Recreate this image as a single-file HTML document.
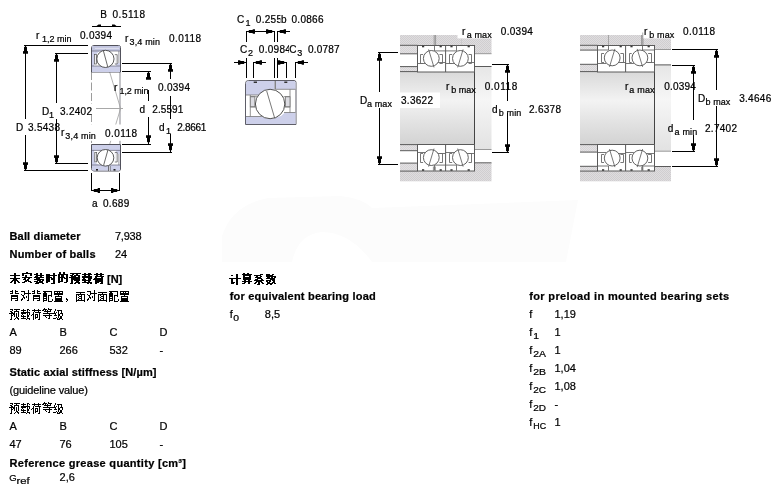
<!DOCTYPE html>
<html><head><meta charset="utf-8"><title>bearing</title>
<style>
html,body{margin:0;padding:0;background:#fff;}
body{width:781px;height:494px;overflow:hidden;position:relative;font-family:"Liberation Sans",sans-serif;}
svg{position:absolute;left:0;top:0;display:block;will-change:transform;}
svg text{font-family:"Liberation Sans",sans-serif;stroke:#000;stroke-width:0.22px;}
.px{shape-rendering:crispEdges}
</style></head><body>
<svg width="781" height="494" viewBox="0 0 781 494">
<defs>
<linearGradient id="shaft" x1="0" y1="0" x2="0" y2="1">
<stop offset="0" stop-color="#d9d9d9"/><stop offset="0.2" stop-color="#e6e6e6"/><stop offset="0.4" stop-color="#f3f3f3"/><stop offset="0.7" stop-color="#e2e2e2"/><stop offset="1" stop-color="#d3d3d3"/>
</linearGradient>
<linearGradient id="shaft2" x1="0" y1="0" x2="0" y2="1">
<stop offset="0" stop-color="#e6e6e6"/><stop offset="0.4" stop-color="#f6f6f6"/><stop offset="1" stop-color="#e2e2e2"/>
</linearGradient>
<pattern id="dith" width="2" height="2" patternUnits="userSpaceOnUse"><rect width="2" height="2" fill="#dfdddf"/><rect width="1" height="1" fill="#d0ced0"/><rect x="1" y="1" width="1" height="1" fill="#d0ced0"/></pattern>
<pattern id="dith2" width="2" height="2" patternUnits="userSpaceOnUse"><rect width="2" height="2" fill="#e3e1e3"/><rect width="1" height="1" fill="#d6d4d6"/><rect x="1" y="1" width="1" height="1" fill="#d6d4d6"/></pattern>
</defs>
<path d="M222 236Q232 205 268 198L340 196Q362 198 372 208L578 200L566 262L372 262Q350 232 322 232Q298 234 292 262L222 262z" fill="#fcfcfc"/>
<g class="px">
</g>
<line x1="91.5" y1="72" x2="91.5" y2="144" stroke="#9c9c9c" stroke-width="1" stroke-dasharray="8 2.5"/>
<rect x="119" y="72" width="2" height="72" fill="#c4c4c8"/>
<line x1="91" y1="108.5" x2="123" y2="108.5" stroke="#a8a8a8" stroke-width="1"/>
<line x1="103.3" y1="50.7" x2="120.6" y2="108.5" stroke="#a0a0a0" stroke-width="0.8"/>
<line x1="120.6" y1="108.5" x2="103.3" y2="165.3" stroke="#a0a0a0" stroke-width="0.8"/>
<rect x="88" y="104" width="8" height="10.5" fill="#fff"/>
<rect x="60" y="124.5" width="79" height="16.3" fill="#fff"/>
<path d="M91.5 72L91.5 48.0Q91.5 45.5 94.0 45.5L118.5 45.5Q120.5 45.5 120.5 47.5L120.5 72z" fill="#fff" stroke="#484852" stroke-width="0.95"/>
<rect x="92" y="46" width="28" height="5" fill="#c3c6e0"/>
<line x1="95" y1="48.4" x2="119" y2="48.4" stroke="#e6e7f3" stroke-width="0.8"/>
<rect x="92" y="66" width="28" height="6" fill="#cdd0ea"/>
<path d="M92 51L99.5 51L95 55.5L94 66L92 66z" fill="#cdd0ea"/>
<path d="M120 63L114.5 63L116.5 66L120 66z" fill="#cdd0ea"/>
<rect x="94.6" y="54.6" width="1.9" height="9.4" fill="#f2f2f6" stroke="#555" stroke-width="0.7"/>
<path d="M114.8 54.6L117.2 54.6L117.2 64L114.8 64" fill="#f2f2f6" stroke="#555" stroke-width="0.7"/>
<line x1="92" y1="51" x2="120" y2="51" stroke="#667" stroke-width="0.7"/>
<line x1="92" y1="66" x2="120" y2="66" stroke="#667" stroke-width="0.7"/>
<line x1="118.9" y1="51" x2="118.9" y2="63" stroke="#667" stroke-width="0.7"/>
<circle cx="105.4" cy="58.9" r="8.6" fill="#fff" stroke="#3c3c3c" stroke-width="0.85"/>
<line x1="103.3" y1="50.5" x2="107.8" y2="67" stroke="#444" stroke-width="0.8"/>
<path d="M91.5 144.5L120.5 144.5L120.5 169Q120.5 171 118.5 171L94.0 171Q91.5 171 91.5 168.5z" fill="#fff" stroke="#484852" stroke-width="0.95"/>
<rect x="92" y="145" width="28" height="5.4" fill="#cdd0ea"/>
<rect x="92" y="165" width="28" height="5.5" fill="#cdd0ea"/>
<path d="M92 165L99 165L95 162.5L94 150L92 150z" fill="#cdd0ea"/>
<path d="M120 154L114.5 154L116.5 150L120 150z" fill="#cdd0ea"/>
<rect x="94.8" y="152.5" width="1.9" height="9.4" fill="#f2f2f6" stroke="#555" stroke-width="0.7"/>
<path d="M114.8 152.5L117.2 152.5L117.2 162L114.8 162" fill="#f2f2f6" stroke="#555" stroke-width="0.7"/>
<line x1="92" y1="150.4" x2="120" y2="150.4" stroke="#667" stroke-width="0.7"/>
<line x1="92" y1="165" x2="120" y2="165" stroke="#667" stroke-width="0.7"/>
<line x1="118.9" y1="154" x2="118.9" y2="165" stroke="#667" stroke-width="0.7"/>
<circle cx="105.5" cy="157.8" r="8.3" fill="#fff" stroke="#3c3c3c" stroke-width="0.85"/>
<line x1="108" y1="149.7" x2="103.7" y2="165" stroke="#444" stroke-width="0.8"/>
<rect x="108.3" y="166" width="0.8" height="5" fill="#444"/>
<rect x="109.1" y="166" width="0.7" height="5" fill="#fff"/>
<rect x="109.8" y="166" width="0.7" height="5" fill="#555"/>
<rect x="96" y="169" width="2" height="1.6" fill="#222"/>
<rect x="113.5" y="169" width="2" height="1.6" fill="#222"/>
<g class="px">
<rect x="24" y="45" width="64" height="1" fill="#000"/>
<rect x="24" y="170" width="64" height="1" fill="#000"/>
<rect x="25" y="45" width="1" height="74" fill="#000"/>
<rect x="25" y="135" width="1" height="36" fill="#000"/>
<rect x="55" y="53" width="33" height="1" fill="#000"/>
<rect x="55" y="163" width="33" height="1" fill="#000"/>
<rect x="56" y="53" width="1" height="50" fill="#000"/>
<rect x="56" y="119" width="1" height="45" fill="#000"/>
<rect x="122" y="63" width="50" height="1" fill="#000"/>
<rect x="122" y="152" width="50" height="1" fill="#000"/>
<rect x="170" y="63" width="1" height="16" fill="#000"/>
<rect x="170" y="96" width="1" height="23" fill="#000"/>
<rect x="170" y="134" width="1" height="18" fill="#000"/>
<rect x="122" y="71" width="29" height="1" fill="#000"/>
<rect x="122" y="144" width="29" height="1" fill="#000"/>
<rect x="148" y="71" width="1" height="8" fill="#000"/>
<rect x="148" y="90" width="1" height="11" fill="#000"/>
<rect x="148" y="117" width="1" height="27" fill="#000"/>
<rect x="91" y="173" width="1" height="18" fill="#000"/>
<rect x="119" y="173" width="1" height="18" fill="#000"/>
<rect x="91" y="190" width="29" height="1" fill="#000"/>
<rect x="92" y="26" width="29" height="1" fill="#000"/>
</g>
<path d="M26.00 45.00L26.00 46.40L27.00 47.20L27.00 51.09L28.00 51.26L28.00 53.70L23.00 53.70L23.00 51.26L24.00 51.09L24.00 47.20L25.00 46.40L25.00 45.00z" fill="#000"/>
<path d="M26.00 171.00L26.00 169.60L27.00 168.80L27.00 164.91L28.00 164.74L28.00 162.30L23.00 162.30L23.00 164.74L24.00 164.91L24.00 168.80L25.00 169.60L25.00 171.00z" fill="#000"/>
<path d="M57.00 53.00L57.00 54.40L58.00 55.20L58.00 59.09L59.00 59.26L59.00 61.70L54.00 61.70L54.00 59.26L55.00 59.09L55.00 55.20L56.00 54.40L56.00 53.00z" fill="#000"/>
<path d="M57.00 164.00L57.00 162.60L58.00 161.80L58.00 157.91L59.00 157.74L59.00 155.30L54.00 155.30L54.00 157.74L55.00 157.91L55.00 161.80L56.00 162.60L56.00 164.00z" fill="#000"/>
<path d="M171.00 63.00L171.00 64.40L172.00 65.20L172.00 69.09L173.00 69.26L173.00 71.70L168.00 71.70L168.00 69.26L169.00 69.09L169.00 65.20L170.00 64.40L170.00 63.00z" fill="#000"/>
<path d="M171.00 152.00L171.00 150.60L172.00 149.80L172.00 145.91L173.00 145.74L173.00 143.30L168.00 143.30L168.00 145.74L169.00 145.91L169.00 149.80L170.00 150.60L170.00 152.00z" fill="#000"/>
<path d="M149.00 71.00L149.00 72.40L150.00 73.20L150.00 77.09L151.00 77.26L151.00 79.70L146.00 79.70L146.00 77.26L147.00 77.09L147.00 73.20L148.00 72.40L148.00 71.00z" fill="#000"/>
<path d="M149.00 144.00L149.00 142.60L150.00 141.80L150.00 137.91L151.00 137.74L151.00 135.30L146.00 135.30L146.00 137.74L147.00 137.91L147.00 141.80L148.00 142.60L148.00 144.00z" fill="#000"/>
<path d="M92.00 191.00L93.40 191.00L94.20 192.00L97.60 192.00L97.76 193.00L100.00 193.00L100.00 188.00L97.76 188.00L97.60 189.00L94.20 189.00L93.40 190.00L92.00 190.00z" fill="#000"/>
<path d="M119.00 191.00L117.60 191.00L116.80 192.00L113.40 192.00L113.24 193.00L111.00 193.00L111.00 188.00L113.24 188.00L113.40 189.00L116.80 189.00L117.60 190.00L119.00 190.00z" fill="#000"/>
<path d="M96.5 26L98.5 24.6L101 24.6L101 26z M116.5 26L114.5 24.6L112 24.6L112 26z" fill="#000"/>
<text x="100.3" y="18" font-size="10" fill="#000">B</text>
<text x="112.5" y="18" font-size="10" fill="#000" textLength="32.5" lengthAdjust="spacing">0.5118</text>
<text x="36" y="38.5" font-size="10" fill="#000">r</text>
<text x="42" y="42" font-size="9" fill="#000" textLength="29.5" lengthAdjust="spacing">1,2 min</text>
<text x="80" y="38.5" font-size="10" fill="#000" textLength="32" lengthAdjust="spacing">0.0394</text>
<text x="125" y="42" font-size="10" fill="#000">r</text>
<text x="129.5" y="45" font-size="9" fill="#000" textLength="30.5" lengthAdjust="spacing">3,4 min</text>
<text x="169" y="42" font-size="10" fill="#000" textLength="32" lengthAdjust="spacing">0.0118</text>
<text x="42" y="114.5" font-size="10" fill="#000">D</text>
<text x="49" y="117.5" font-size="9" fill="#000">1</text>
<text x="60" y="114.5" font-size="10" fill="#000" textLength="32" lengthAdjust="spacing">3.2402</text>
<text x="16" y="131" font-size="10" fill="#000">D</text>
<text x="28" y="131" font-size="10" fill="#000" textLength="32" lengthAdjust="spacing">3.5438</text>
<g class="px">
<rect x="56" y="119" width="1" height="12" fill="#000"/>
</g>
<text x="61" y="136.4" font-size="10" fill="#000">r</text>
<text x="65.3" y="139.4" font-size="9" fill="#000" textLength="30.5" lengthAdjust="spacing">3,4 min</text>
<text x="105" y="137" font-size="10" fill="#000" textLength="32" lengthAdjust="spacing">0.0118</text>
<text x="114" y="90.5" font-size="10" fill="#000">r</text>
<text x="119.5" y="94" font-size="9" fill="#000" textLength="29" lengthAdjust="spacing">1,2 min</text>
<text x="158" y="90.5" font-size="10" fill="#000" textLength="32" lengthAdjust="spacing">0.0394</text>
<text x="139.5" y="113" font-size="10" fill="#000">d</text>
<text x="152.3" y="113" font-size="10" fill="#000" textLength="31" lengthAdjust="spacing">2.5591</text>
<g class="px">
<rect x="170" y="105" width="1" height="14" fill="#000"/>
</g>
<text x="159" y="131" font-size="10" fill="#000">d</text>
<text x="166" y="134" font-size="9" fill="#000">1</text>
<text x="177.2" y="131" font-size="10" fill="#000" textLength="29" lengthAdjust="spacing">2.8661</text>
<text x="92" y="206.5" font-size="10" fill="#000">a</text>
<text x="103" y="206.5" font-size="10" fill="#000" textLength="26.2" lengthAdjust="spacing">0.689</text>
<path d="M245.5 124.5L245.5 83.5Q245.5 80.5 248.5 80.5L294 80.5Q296 80.5 296 82.5L296 124.5z" fill="#fff" stroke="#555560" stroke-width="0.95"/>
<path d="M246 95L246 83.5Q246 81 248.5 81L274.7 81L274.7 89.3L262 95z" fill="#cdd0ea"/>
<path d="M275.7 81L294 81Q295.5 81 295.5 82.5L295.5 89.3L275.7 89.3z" fill="#cdd0ea"/>
<path d="M246 116.5L262 116.5L270 119L281 116L285 112.5L295.5 112.5L295.5 124L246 124z" fill="#cdd0ea"/>
<line x1="246" y1="95" x2="258" y2="95" stroke="#777" stroke-width="0.8"/>
<line x1="275.2" y1="80.5" x2="275.2" y2="89.5" stroke="#555" stroke-width="1"/>
<line x1="275.7" y1="89.3" x2="295.5" y2="89.3" stroke="#777" stroke-width="0.8"/>
<line x1="246" y1="116.5" x2="262" y2="116.5" stroke="#777" stroke-width="0.8"/>
<line x1="284" y1="112.5" x2="295.5" y2="112.5" stroke="#777" stroke-width="0.8"/>
<line x1="250.3" y1="95" x2="250.3" y2="116.5" stroke="#777" stroke-width="0.8"/>
<line x1="290" y1="89.3" x2="290" y2="112.5" stroke="#777" stroke-width="0.8"/>
<rect x="250.3" y="96.7" width="4.5" height="10.2" fill="#dcdce2" stroke="#777" stroke-width="0.8"/>
<rect x="285.4" y="96.7" width="4.6" height="10.2" fill="#dcdce2" stroke="#777" stroke-width="0.8"/>
<line x1="250.3" y1="96.7" x2="257" y2="96.7" stroke="#777" stroke-width="0.8"/>
<line x1="250.3" y1="106.9" x2="256" y2="106.9" stroke="#777" stroke-width="0.8"/>
<line x1="283.5" y1="96.7" x2="290" y2="96.7" stroke="#777" stroke-width="0.8"/>
<line x1="284.5" y1="106.9" x2="290" y2="106.9" stroke="#777" stroke-width="0.8"/>
<circle cx="270.1" cy="104" r="14.7" fill="#fff" stroke="#3c3c3c" stroke-width="0.9"/>
<line x1="266.7" y1="91" x2="274.7" y2="118.2" stroke="#555" stroke-width="0.8"/>
<rect x="253.7" y="81.5" width="3.3" height="1.5" fill="#333"/>
<rect x="284.3" y="81.5" width="3" height="1.5" fill="#333"/>
<g class="px">
<rect x="246" y="31" width="29" height="1" fill="#000"/>
<rect x="246" y="31" width="1" height="11" fill="#000"/>
<rect x="274" y="31" width="1" height="11" fill="#000"/>
<rect x="277" y="31" width="1" height="11" fill="#000"/>
<rect x="278" y="31" width="12" height="1" fill="#000"/>
<rect x="246" y="58" width="1" height="20" fill="#000"/>
<rect x="253" y="62" width="1" height="16" fill="#000"/>
<rect x="274" y="58" width="1" height="20" fill="#000"/>
<rect x="277" y="58" width="1" height="20" fill="#000"/>
<rect x="286" y="62" width="1" height="16" fill="#000"/>
<rect x="295" y="62" width="1" height="16" fill="#000"/>
<rect x="234" y="62" width="12" height="1" fill="#000"/>
<rect x="254" y="62" width="12" height="1" fill="#000"/>
<rect x="278" y="62" width="8" height="1" fill="#000"/>
<rect x="296" y="62" width="12" height="1" fill="#000"/>
</g>
<path d="M247.00 32.00L248.40 32.00L249.20 33.00L252.60 33.00L252.76 33.70L255.00 33.70L255.00 29.30L252.76 29.30L252.60 30.00L249.20 30.00L248.40 31.00L247.00 31.00z" fill="#000"/>
<path d="M274.00 32.00L272.60 32.00L271.80 33.00L268.40 33.00L268.24 33.70L266.00 33.70L266.00 29.30L268.24 29.30L268.40 30.00L271.80 30.00L272.60 31.00L274.00 31.00z" fill="#000"/>
<path d="M278.00 32.00L279.40 32.00L280.20 33.00L283.60 33.00L283.76 33.70L286.00 33.70L286.00 29.30L283.76 29.30L283.60 30.00L280.20 30.00L279.40 31.00L278.00 31.00z" fill="#000"/>
<path d="M246.00 63.00L244.60 63.00L243.80 64.00L240.40 64.00L240.24 64.70L238.00 64.70L238.00 60.30L240.24 60.30L240.40 61.00L243.80 61.00L244.60 62.00L246.00 62.00z" fill="#000"/>
<path d="M254.00 63.00L255.40 63.00L256.20 64.00L259.60 64.00L259.76 64.70L262.00 64.70L262.00 60.30L259.76 60.30L259.60 61.00L256.20 61.00L255.40 62.00L254.00 62.00z" fill="#000"/>
<path d="M286.00 63.00L284.60 63.00L283.80 64.00L280.40 64.00L280.24 64.70L278.00 64.70L278.00 60.30L280.24 60.30L280.40 61.00L283.80 61.00L284.60 62.00L286.00 62.00z" fill="#000"/>
<path d="M296.00 63.00L297.40 63.00L298.20 64.00L301.60 64.00L301.76 64.70L304.00 64.70L304.00 60.30L301.76 60.30L301.60 61.00L298.20 61.00L297.40 62.00L296.00 62.00z" fill="#000"/>
<text x="237" y="22.5" font-size="10" fill="#000">C</text>
<text x="245.5" y="25.5" font-size="9" fill="#000">1</text>
<text x="255.8" y="22.5" font-size="10" fill="#000" textLength="32" lengthAdjust="spacing">0.2559</text>
<rect x="280.5" y="12" width="45" height="13" fill="#fff"/>
<text x="281" y="22.5" font-size="10" fill="#000">b</text>
<text x="291.5" y="22.5" font-size="10" fill="#000" textLength="32" lengthAdjust="spacing">0.0866</text>
<text x="240" y="53" font-size="10" fill="#000">C</text>
<text x="248" y="56" font-size="9" fill="#000">2</text>
<text x="258.8" y="53" font-size="10" fill="#000" textLength="32" lengthAdjust="spacing">0.0984</text>
<rect x="289" y="43" width="52" height="13" fill="#fff"/>
<text x="289.3" y="53" font-size="10" fill="#000">C</text>
<text x="297.3" y="56" font-size="9" fill="#000">3</text>
<text x="308" y="53" font-size="10" fill="#000" textLength="31.6" lengthAdjust="spacing">0.0787</text>
<rect x="400" y="35" width="91.5" height="10" fill="url(#dith)"/>
<rect x="400" y="171" width="91.5" height="10.3" fill="url(#dith)"/>
<rect x="400" y="71.5" width="74.5" height="73" fill="url(#shaft)"/>
<rect x="400" y="45" width="17.5" height="8.7" fill="url(#dith2)"/>
<rect x="400" y="66.5" width="17.5" height="5" fill="url(#dith2)"/>
<rect x="400" y="144.5" width="17.5" height="6" fill="url(#dith2)"/>
<rect x="400" y="163" width="17.5" height="8" fill="url(#dith2)"/>
<line x1="400" y1="45.3" x2="417.5" y2="45.3" stroke="#5a5a5a" stroke-width="1"/>
<line x1="400" y1="53.8" x2="417.5" y2="53.8" stroke="#5a5a5a" stroke-width="1"/>
<line x1="400" y1="66.6" x2="417.5" y2="66.6" stroke="#5a5a5a" stroke-width="1"/>
<line x1="400" y1="71.6" x2="417.5" y2="71.6" stroke="#5a5a5a" stroke-width="1"/>
<line x1="400" y1="144.60000000000002" x2="417.5" y2="144.60000000000002" stroke="#5a5a5a" stroke-width="1"/>
<line x1="400" y1="150.70000000000002" x2="417.5" y2="150.70000000000002" stroke="#5a5a5a" stroke-width="1"/>
<line x1="400" y1="163.10000000000002" x2="417.5" y2="163.10000000000002" stroke="#5a5a5a" stroke-width="1"/>
<line x1="400" y1="171.10000000000002" x2="417.5" y2="171.10000000000002" stroke="#5a5a5a" stroke-width="1"/>
<rect x="474.5" y="45" width="17.0" height="8.7" fill="url(#dith)"/>
<rect x="474.5" y="163" width="17.0" height="8" fill="url(#dith)"/>
<rect x="474.5" y="66.5" width="17.0" height="83" fill="url(#shaft2)"/>
<line x1="474.5" y1="53.7" x2="491.5" y2="53.7" stroke="#999" stroke-width="1"/>
<line x1="474.5" y1="66.5" x2="491.5" y2="66.5" stroke="#5a5a5a" stroke-width="1"/>
<line x1="474.5" y1="149.5" x2="491.5" y2="149.5" stroke="#999" stroke-width="1"/>
<line x1="474.5" y1="162.8" x2="491.5" y2="162.8" stroke="#5a5a5a" stroke-width="1"/>
<line x1="434.2" y1="35" x2="434.2" y2="45" stroke="#888" stroke-width="0.8"/>
<line x1="435.6" y1="35" x2="435.6" y2="45" stroke="#888" stroke-width="0.8"/>
<line x1="461.5" y1="35" x2="461.5" y2="45" stroke="#c8c8c8" stroke-width="0.8"/>
<line x1="474.5" y1="71.5" x2="474.5" y2="144.5" stroke="#444" stroke-width="1"/>
<rect x="417.5" y="45.5" width="57.0" height="26.5" fill="#fff" stroke="#5a5a5a" stroke-width="1"/>
<line x1="445.6" y1="45.5" x2="445.6" y2="72" stroke="#5a5a5a" stroke-width="1"/>
<line x1="434.5" y1="45.5" x2="434.5" y2="50.9" stroke="#686868" stroke-width="0.9"/>
<line x1="434.5" y1="50.9" x2="445.6" y2="50.9" stroke="#686868" stroke-width="0.9"/>
<line x1="417.5" y1="63.5" x2="425.3" y2="63.5" stroke="#686868" stroke-width="0.9"/>
<line x1="437.3" y1="62.5" x2="445.6" y2="62.5" stroke="#686868" stroke-width="0.9"/>
<path d="M423.1 54.5L420.5 54.5L420.5 63.5L423.1 63.5" fill="none" stroke="#686868" stroke-width="0.9"/>
<path d="M439.5 54.5L442.5 54.5L442.5 63.5L439.5 63.5" fill="none" stroke="#686868" stroke-width="0.9"/>
<circle cx="431.3" cy="58.4" r="7.9" fill="#fff" stroke="#505050" stroke-width="0.9"/>
<line x1="428.6" y1="49.4" x2="434.0" y2="67.4" stroke="#555" stroke-width="0.8"/>
<line x1="456.5" y1="45.5" x2="456.5" y2="50.9" stroke="#686868" stroke-width="0.9"/>
<line x1="456.5" y1="50.9" x2="445.6" y2="50.9" stroke="#686868" stroke-width="0.9"/>
<line x1="445.6" y1="63.5" x2="454.4" y2="63.5" stroke="#686868" stroke-width="0.9"/>
<line x1="466.4" y1="62.5" x2="474.5" y2="62.5" stroke="#686868" stroke-width="0.9"/>
<path d="M452.2 54.5L449.5 54.5L449.5 63.5L452.2 63.5" fill="none" stroke="#686868" stroke-width="0.9"/>
<path d="M468.6 54.5L471.5 54.5L471.5 63.5L468.6 63.5" fill="none" stroke="#686868" stroke-width="0.9"/>
<circle cx="460.4" cy="58.4" r="7.9" fill="#fff" stroke="#505050" stroke-width="0.9"/>
<line x1="463.09999999999997" y1="49.4" x2="457.7" y2="67.4" stroke="#555" stroke-width="0.8"/>
<rect x="422.0" y="45.7" width="2.2" height="1.6" fill="#3a3a3a"/>
<rect x="439.6" y="45.7" width="2.2" height="1.6" fill="#3a3a3a"/>
<rect x="450.4" y="45.7" width="2.2" height="1.6" fill="#3a3a3a"/>
<rect x="467.6" y="45.7" width="2.2" height="1.6" fill="#3a3a3a"/>
<rect x="417.5" y="144.5" width="57.0" height="26.5" fill="#fff" stroke="#5a5a5a" stroke-width="1"/>
<line x1="445.6" y1="144.5" x2="445.6" y2="171" stroke="#5a5a5a" stroke-width="1"/>
<line x1="434.5" y1="170.5" x2="434.5" y2="165.1" stroke="#686868" stroke-width="0.9"/>
<line x1="434.5" y1="165.1" x2="445.6" y2="165.1" stroke="#686868" stroke-width="0.9"/>
<line x1="417.5" y1="152.5" x2="425.3" y2="152.5" stroke="#686868" stroke-width="0.9"/>
<line x1="437.3" y1="153.5" x2="445.6" y2="153.5" stroke="#686868" stroke-width="0.9"/>
<path d="M423.1 153.5L420.5 153.5L420.5 162.5L423.1 162.5" fill="none" stroke="#686868" stroke-width="0.9"/>
<path d="M439.5 153.5L442.5 153.5L442.5 162.5L439.5 162.5" fill="none" stroke="#686868" stroke-width="0.9"/>
<circle cx="431.3" cy="157.6" r="7.9" fill="#fff" stroke="#505050" stroke-width="0.9"/>
<line x1="428.6" y1="166.6" x2="434.0" y2="148.6" stroke="#555" stroke-width="0.8"/>
<line x1="456.5" y1="170.5" x2="456.5" y2="165.1" stroke="#686868" stroke-width="0.9"/>
<line x1="456.5" y1="165.1" x2="445.6" y2="165.1" stroke="#686868" stroke-width="0.9"/>
<line x1="445.6" y1="152.5" x2="454.4" y2="152.5" stroke="#686868" stroke-width="0.9"/>
<line x1="466.4" y1="153.5" x2="474.5" y2="153.5" stroke="#686868" stroke-width="0.9"/>
<path d="M452.2 153.5L449.5 153.5L449.5 162.5L452.2 162.5" fill="none" stroke="#686868" stroke-width="0.9"/>
<path d="M468.6 153.5L471.5 153.5L471.5 162.5L468.6 162.5" fill="none" stroke="#686868" stroke-width="0.9"/>
<circle cx="460.4" cy="157.6" r="7.9" fill="#fff" stroke="#505050" stroke-width="0.9"/>
<line x1="463.09999999999997" y1="166.6" x2="457.7" y2="148.6" stroke="#555" stroke-width="0.8"/>
<rect x="422.0" y="169.2" width="2.2" height="1.6" fill="#3a3a3a"/>
<rect x="439.6" y="169.2" width="2.2" height="1.6" fill="#3a3a3a"/>
<rect x="450.4" y="169.2" width="2.2" height="1.6" fill="#3a3a3a"/>
<rect x="467.6" y="169.2" width="2.2" height="1.6" fill="#3a3a3a"/>
<line x1="433.4" y1="166.5" x2="433.4" y2="171" stroke="#777" stroke-width="0.8"/>
<line x1="435.3" y1="166.5" x2="435.3" y2="171" stroke="#777" stroke-width="0.8"/>
<line x1="456.5" y1="166.5" x2="456.5" y2="171" stroke="#777" stroke-width="0.8"/>
<rect x="580" y="35" width="91" height="10" fill="url(#dith)"/>
<rect x="580" y="171" width="91" height="10.3" fill="url(#dith)"/>
<rect x="580" y="71.5" width="74.5" height="73" fill="url(#shaft)"/>
<rect x="580" y="45" width="17.5" height="5" fill="url(#dith2)"/>
<rect x="580" y="64" width="17.5" height="7.5" fill="url(#dith2)"/>
<rect x="580" y="144.5" width="17.5" height="7.5" fill="url(#dith2)"/>
<rect x="580" y="166" width="17.5" height="5" fill="url(#dith2)"/>
<line x1="580" y1="45.3" x2="597.5" y2="45.3" stroke="#5a5a5a" stroke-width="1"/>
<line x1="580" y1="50.099999999999994" x2="597.5" y2="50.099999999999994" stroke="#5a5a5a" stroke-width="1"/>
<line x1="580" y1="64.3" x2="597.5" y2="64.3" stroke="#5a5a5a" stroke-width="1"/>
<line x1="580" y1="71.6" x2="597.5" y2="71.6" stroke="#5a5a5a" stroke-width="1"/>
<line x1="580" y1="144.60000000000002" x2="597.5" y2="144.60000000000002" stroke="#5a5a5a" stroke-width="1"/>
<line x1="580" y1="152.10000000000002" x2="597.5" y2="152.10000000000002" stroke="#5a5a5a" stroke-width="1"/>
<line x1="580" y1="166.3" x2="597.5" y2="166.3" stroke="#5a5a5a" stroke-width="1"/>
<line x1="580" y1="171.10000000000002" x2="597.5" y2="171.10000000000002" stroke="#5a5a5a" stroke-width="1"/>
<rect x="654.5" y="45" width="16.5" height="4.5" fill="url(#dith)"/>
<rect x="654.5" y="166.5" width="16.5" height="4.5" fill="url(#dith)"/>
<rect x="654.5" y="64.7" width="16.5" height="86.5" fill="url(#shaft2)"/>
<line x1="654.5" y1="49.5" x2="671" y2="49.5" stroke="#999" stroke-width="1"/>
<line x1="654.5" y1="64.9" x2="671" y2="64.9" stroke="#5a5a5a" stroke-width="1"/>
<line x1="654.5" y1="151.2" x2="671" y2="151.2" stroke="#999" stroke-width="1"/>
<line x1="654.5" y1="166.5" x2="671" y2="166.5" stroke="#5a5a5a" stroke-width="1"/>
<line x1="608.5" y1="35" x2="608.5" y2="45" stroke="#999" stroke-width="0.8"/>
<line x1="641.6" y1="35" x2="641.6" y2="45" stroke="#888" stroke-width="0.8"/>
<line x1="642.9" y1="32.5" x2="642.9" y2="45" stroke="#777" stroke-width="0.8"/>
<line x1="654.5" y1="71.5" x2="654.5" y2="144.5" stroke="#444" stroke-width="1"/>
<rect x="597.5" y="45.5" width="57.0" height="26.5" fill="#fff" stroke="#5a5a5a" stroke-width="1"/>
<line x1="625.6" y1="45.5" x2="625.6" y2="72" stroke="#5a5a5a" stroke-width="1"/>
<line x1="608.5" y1="45.5" x2="608.5" y2="50.0" stroke="#686868" stroke-width="0.9"/>
<line x1="608.5" y1="50.0" x2="597.5" y2="50.0" stroke="#686868" stroke-width="0.9"/>
<line x1="597.5" y1="63.5" x2="606.2" y2="63.5" stroke="#686868" stroke-width="0.9"/>
<line x1="618.2" y1="62.5" x2="625.6" y2="62.5" stroke="#686868" stroke-width="0.9"/>
<path d="M604.0 53.5L601.5 53.5L601.5 62.5L604.0 62.5" fill="none" stroke="#686868" stroke-width="0.9"/>
<path d="M620.4 53.5L623.5 53.5L623.5 62.5L620.4 62.5" fill="none" stroke="#686868" stroke-width="0.9"/>
<circle cx="612.2" cy="57.9" r="7.9" fill="#fff" stroke="#505050" stroke-width="0.9"/>
<line x1="614.9000000000001" y1="48.9" x2="609.5" y2="66.9" stroke="#555" stroke-width="0.8"/>
<line x1="642.5" y1="45.5" x2="642.5" y2="50.0" stroke="#686868" stroke-width="0.9"/>
<line x1="642.5" y1="50.0" x2="654.5" y2="50.0" stroke="#686868" stroke-width="0.9"/>
<line x1="625.6" y1="63.5" x2="633.9" y2="63.5" stroke="#686868" stroke-width="0.9"/>
<line x1="645.9" y1="62.5" x2="654.5" y2="62.5" stroke="#686868" stroke-width="0.9"/>
<path d="M631.7 53.5L629.5 53.5L629.5 62.5L631.7 62.5" fill="none" stroke="#686868" stroke-width="0.9"/>
<path d="M648.1 53.5L651.5 53.5L651.5 62.5L648.1 62.5" fill="none" stroke="#686868" stroke-width="0.9"/>
<circle cx="639.9" cy="57.9" r="7.9" fill="#fff" stroke="#505050" stroke-width="0.9"/>
<line x1="637.1999999999999" y1="48.9" x2="642.6" y2="66.9" stroke="#555" stroke-width="0.8"/>
<rect x="602.0" y="45.7" width="2.2" height="1.6" fill="#3a3a3a"/>
<rect x="619.6" y="45.7" width="2.2" height="1.6" fill="#3a3a3a"/>
<rect x="630.4" y="45.7" width="2.2" height="1.6" fill="#3a3a3a"/>
<rect x="647.6" y="45.7" width="2.2" height="1.6" fill="#3a3a3a"/>
<rect x="597.5" y="144.5" width="57.0" height="26.5" fill="#fff" stroke="#5a5a5a" stroke-width="1"/>
<line x1="625.6" y1="144.5" x2="625.6" y2="171" stroke="#5a5a5a" stroke-width="1"/>
<line x1="608.5" y1="170.5" x2="608.5" y2="166.0" stroke="#686868" stroke-width="0.9"/>
<line x1="608.5" y1="166.0" x2="597.5" y2="166.0" stroke="#686868" stroke-width="0.9"/>
<line x1="597.5" y1="152.5" x2="606.2" y2="152.5" stroke="#686868" stroke-width="0.9"/>
<line x1="618.2" y1="153.5" x2="625.6" y2="153.5" stroke="#686868" stroke-width="0.9"/>
<path d="M604.0 154.5L601.5 154.5L601.5 162.5L604.0 162.5" fill="none" stroke="#686868" stroke-width="0.9"/>
<path d="M620.4 154.5L623.5 154.5L623.5 162.5L620.4 162.5" fill="none" stroke="#686868" stroke-width="0.9"/>
<circle cx="612.2" cy="158.1" r="7.9" fill="#fff" stroke="#505050" stroke-width="0.9"/>
<line x1="614.9000000000001" y1="167.1" x2="609.5" y2="149.1" stroke="#555" stroke-width="0.8"/>
<line x1="642.5" y1="170.5" x2="642.5" y2="166.0" stroke="#686868" stroke-width="0.9"/>
<line x1="642.5" y1="166.0" x2="654.5" y2="166.0" stroke="#686868" stroke-width="0.9"/>
<line x1="625.6" y1="152.5" x2="633.9" y2="152.5" stroke="#686868" stroke-width="0.9"/>
<line x1="645.9" y1="153.5" x2="654.5" y2="153.5" stroke="#686868" stroke-width="0.9"/>
<path d="M631.7 154.5L629.5 154.5L629.5 162.5L631.7 162.5" fill="none" stroke="#686868" stroke-width="0.9"/>
<path d="M648.1 154.5L651.5 154.5L651.5 162.5L648.1 162.5" fill="none" stroke="#686868" stroke-width="0.9"/>
<circle cx="639.9" cy="158.1" r="7.9" fill="#fff" stroke="#505050" stroke-width="0.9"/>
<line x1="637.1999999999999" y1="167.1" x2="642.6" y2="149.1" stroke="#555" stroke-width="0.8"/>
<rect x="602.0" y="169.2" width="2.2" height="1.6" fill="#3a3a3a"/>
<rect x="619.6" y="169.2" width="2.2" height="1.6" fill="#3a3a3a"/>
<rect x="630.4" y="169.2" width="2.2" height="1.6" fill="#3a3a3a"/>
<rect x="647.6" y="169.2" width="2.2" height="1.6" fill="#3a3a3a"/>
<line x1="608.5" y1="166.5" x2="608.5" y2="171" stroke="#777" stroke-width="0.8"/>
<line x1="641.6" y1="166.5" x2="641.6" y2="171" stroke="#777" stroke-width="0.8"/>
<line x1="642.9" y1="166.5" x2="642.9" y2="171" stroke="#777" stroke-width="0.8"/>
<g class="px">
<rect x="378" y="52" width="20" height="1" fill="#000"/>
<rect x="378" y="164" width="20" height="1" fill="#000"/>
<rect x="379" y="52" width="1" height="40" fill="#000"/>
<rect x="379" y="108" width="1" height="57" fill="#000"/>
<rect x="492" y="64" width="17" height="1" fill="#000"/>
<rect x="492" y="152" width="17" height="1" fill="#000"/>
<rect x="507" y="64" width="1" height="37" fill="#000"/>
<rect x="507" y="113" width="1" height="39" fill="#000"/>
<rect x="672" y="49" width="46" height="1" fill="#000"/>
<rect x="672" y="166" width="46" height="1" fill="#000"/>
<rect x="716" y="49" width="1" height="41" fill="#000"/>
<rect x="716" y="106" width="1" height="60" fill="#000"/>
<rect x="672" y="65" width="23" height="1" fill="#000"/>
<rect x="672" y="151" width="23" height="1" fill="#000"/>
<rect x="693" y="65" width="1" height="55" fill="#000"/>
<rect x="693" y="135" width="1" height="16" fill="#000"/>
</g>
<path d="M380.00 52.00L380.00 53.40L381.00 54.20L381.00 58.09L382.00 58.26L382.00 60.70L377.00 60.70L377.00 58.26L378.00 58.09L378.00 54.20L379.00 53.40L379.00 52.00z" fill="#000"/>
<path d="M380.00 165.00L380.00 163.60L381.00 162.80L381.00 158.91L382.00 158.74L382.00 156.30L377.00 156.30L377.00 158.74L378.00 158.91L378.00 162.80L379.00 163.60L379.00 165.00z" fill="#000"/>
<path d="M508.00 64.00L508.00 65.40L509.00 66.20L509.00 70.09L510.00 70.26L510.00 72.70L505.00 72.70L505.00 70.26L506.00 70.09L506.00 66.20L507.00 65.40L507.00 64.00z" fill="#000"/>
<path d="M508.00 153.00L508.00 151.60L509.00 150.80L509.00 146.91L510.00 146.74L510.00 144.30L505.00 144.30L505.00 146.74L506.00 146.91L506.00 150.80L507.00 151.60L507.00 153.00z" fill="#000"/>
<path d="M717.00 49.00L717.00 50.40L718.00 51.20L718.00 55.09L719.00 55.26L719.00 57.70L714.00 57.70L714.00 55.26L715.00 55.09L715.00 51.20L716.00 50.40L716.00 49.00z" fill="#000"/>
<path d="M717.00 167.00L717.00 165.60L718.00 164.80L718.00 160.91L719.00 160.74L719.00 158.30L714.00 158.30L714.00 160.74L715.00 160.91L715.00 164.80L716.00 165.60L716.00 167.00z" fill="#000"/>
<path d="M694.00 65.00L694.00 66.40L695.00 67.20L695.00 71.09L696.00 71.26L696.00 73.70L691.00 73.70L691.00 71.26L692.00 71.09L692.00 67.20L693.00 66.40L693.00 65.00z" fill="#000"/>
<path d="M694.00 152.00L694.00 150.60L695.00 149.80L695.00 145.91L696.00 145.74L696.00 143.30L691.00 143.30L691.00 145.74L692.00 145.91L692.00 149.80L693.00 150.60L693.00 152.00z" fill="#000"/>
<rect x="457.5" y="24" width="34" height="14.4" fill="#fff"/>
<text x="462" y="35" font-size="10" fill="#000">r</text>
<text x="466.7" y="38" font-size="9" fill="#000" textLength="25" lengthAdjust="spacing">a max</text>
<text x="500.8" y="35" font-size="10" fill="#000" textLength="32" lengthAdjust="spacing">0.0394</text>
<text x="446" y="90" font-size="10" fill="#000">r</text>
<text x="451.3" y="93" font-size="9" fill="#000" textLength="24.5" lengthAdjust="spacing">b max</text>
<text x="484.7" y="90.4" font-size="10" fill="#000" textLength="32.5" lengthAdjust="spacing">0.0118</text>
<g class="px">
<rect x="507" y="80" width="1" height="21" fill="#000"/>
</g>
<text x="360" y="103.5" font-size="10" fill="#000">D</text>
<text x="367" y="106.5" font-size="9" fill="#000" textLength="25" lengthAdjust="spacing">a max</text>
<rect x="400" y="92.5" width="40" height="15.5" fill="#fff"/>
<text x="401" y="103.5" font-size="10" fill="#000" textLength="32" lengthAdjust="spacing">3.3622</text>
<text x="492" y="113" font-size="10" fill="#000">d</text>
<text x="498.8" y="116" font-size="9" fill="#000" textLength="22.5" lengthAdjust="spacing">b min</text>
<text x="529" y="113" font-size="10" fill="#000" textLength="32" lengthAdjust="spacing">2.6378</text>
<rect x="643.4" y="24" width="28" height="14.4" fill="#fff"/>
<text x="644" y="35" font-size="10" fill="#000">r</text>
<text x="649.3" y="38" font-size="9" fill="#000" textLength="25" lengthAdjust="spacing">b max</text>
<text x="683" y="35" font-size="10" fill="#000" textLength="32" lengthAdjust="spacing">0.0118</text>
<text x="625" y="90" font-size="10" fill="#000">r</text>
<text x="629.3" y="93" font-size="9" fill="#000" textLength="25.3" lengthAdjust="spacing">a max</text>
<text x="664.3" y="90" font-size="10" fill="#000" textLength="31.6" lengthAdjust="spacing">0.0394</text>
<g class="px">
<rect x="693" y="73" width="1" height="47" fill="#000"/>
</g>
<text x="698" y="101.8" font-size="10" fill="#000">D</text>
<text x="705.6" y="104.8" font-size="9" fill="#000" textLength="24.7" lengthAdjust="spacing">b max</text>
<text x="739.2" y="101.8" font-size="10" fill="#000" textLength="32" lengthAdjust="spacing">3.4646</text>
<text x="667.8" y="132" font-size="10" fill="#000">d</text>
<text x="674.6" y="135" font-size="9" fill="#000" textLength="22.7" lengthAdjust="spacing">a min</text>
<text x="705" y="132" font-size="10" fill="#000" textLength="32" lengthAdjust="spacing">2.7402</text>
<g class="px">
<rect x="716" y="106" width="1" height="60" fill="#000"/>
</g>
<text x="9.5" y="240" font-size="11" fill="#000" textLength="71" lengthAdjust="spacing" font-weight="bold">Ball diameter</text>
<text x="115" y="240" font-size="11" fill="#000" textLength="26.5" lengthAdjust="spacing">7,938</text>
<text x="9.5" y="258" font-size="11" fill="#000" textLength="86" lengthAdjust="spacing" font-weight="bold">Number of balls</text>
<text x="115" y="258" font-size="11" fill="#000">24</text>
<path class="px" fill="#000" d="M14 273h2v1h-2zM14 274h2v1h-2zM10 275h10v1h-10zM14 276h2v1h-2zM14 277h2v1h-2zM10 278h10v1h-10zM13 279h4v1h-4zM12 280h6v1h-6zM11 281h2v1h-2zM14 281h2v1h-2zM17 281h2v1h-2zM10 282h2v1h-2zM14 282h2v1h-2zM18 282h2v1h-2zM14 283h2v1h-2zM26 272h2v1h-2zM22 273h10v1h-10zM22 274h2v1h-2zM30 274h2v1h-2zM22 275h2v1h-2zM25 275h2v1h-2zM30 275h2v1h-2zM25 276h2v1h-2zM22 277h10v1h-10zM24 278h2v1h-2zM28 278h2v1h-2zM23 279h3v1h-3zM27 279h2v1h-2zM25 280h4v1h-4zM24 281h3v1h-3zM28 281h3v1h-3zM22 282h3v1h-3zM30 282h2v1h-2zM36 273h2v1h-2zM40 273h2v1h-2zM34 274h4v1h-4zM40 274h2v1h-2zM36 275h8v1h-8zM35 276h3v1h-3zM40 276h2v1h-2zM34 277h10v1h-10zM36 278h4v1h-4zM34 279h10v1h-10zM37 280h4v1h-4zM42 280h2v1h-2zM34 281h4v1h-4zM39 281h4v1h-4zM36 282h7v1h-7zM35 283h4v1h-4zM42 283h2v1h-2zM53 273h2v1h-2zM46 274h4v1h-4zM53 274h2v1h-2zM46 275h11v1h-11zM46 276h4v1h-4zM53 276h2v1h-2zM46 277h6v1h-6zM53 277h2v1h-2zM46 278h4v1h-4zM51 278h4v1h-4zM46 279h4v1h-4zM51 279h4v1h-4zM46 280h4v1h-4zM53 280h2v1h-2zM46 281h4v1h-4zM53 281h2v1h-2zM46 282h2v1h-2zM53 282h2v1h-2zM51 283h4v1h-4zM59 272h2v1h-2zM63 272h2v1h-2zM59 273h2v1h-2zM63 273h2v1h-2zM58 274h10v1h-10zM58 275h2v1h-2zM61 275h3v1h-3zM66 275h2v1h-2zM58 276h2v1h-2zM61 276h3v1h-3zM66 276h2v1h-2zM58 277h7v1h-7zM66 277h2v1h-2zM58 278h2v1h-2zM61 278h2v1h-2zM64 278h4v1h-4zM58 279h2v1h-2zM61 279h2v1h-2zM66 279h2v1h-2zM58 280h2v1h-2zM61 280h2v1h-2zM66 280h2v1h-2zM58 281h5v1h-5zM66 281h2v1h-2zM58 282h2v1h-2zM64 282h3v1h-3zM70 273h11v1h-11zM72 274h2v1h-2zM76 274h2v1h-2zM70 275h3v1h-3zM74 275h6v1h-6zM71 276h5v1h-5zM78 276h2v1h-2zM69 277h11v1h-11zM71 278h9v1h-9zM71 279h9v1h-9zM71 280h2v1h-2zM74 280h6v1h-6zM71 281h2v1h-2zM76 281h3v1h-3zM71 282h2v1h-2zM75 282h5v1h-5zM70 283h3v1h-3zM74 283h2v1h-2zM78 283h2v1h-2zM84 273h2v1h-2zM88 273h3v1h-3zM82 274h10v1h-10zM84 275h2v1h-2zM88 275h2v1h-2zM82 276h10v1h-10zM82 277h10v1h-10zM83 278h2v1h-2zM88 278h4v1h-4zM82 279h4v1h-4zM88 279h3v1h-3zM82 280h9v1h-9zM84 281h2v1h-2zM88 281h2v1h-2zM82 282h10v1h-10zM87 283h2v1h-2zM90 283h2v1h-2zM96 273h2v1h-2zM100 273h2v1h-2zM94 274h10v1h-10zM96 275h2v1h-2zM100 275h2v1h-2zM95 276h9v1h-9zM95 277h2v1h-2zM101 277h2v1h-2zM94 278h9v1h-9zM93 279h10v1h-10zM95 280h8v1h-8zM95 281h8v1h-8zM95 282h4v1h-4zM101 282h2v1h-2zM95 283h2v1h-2zM100 283h3v1h-3z"/>
<text x="107" y="282.5" font-size="11" fill="#000" font-weight="bold">[N]</text>
<path class="px" fill="#000" d="M12 290h1v1h-1zM15 290h1v1h-1zM10 291h3v1h-3zM15 291h3v1h-3zM12 292h1v1h-1zM15 292h1v1h-1zM10 293h3v1h-3zM15 293h4v1h-4zM11 295h7v1h-7zM11 296h7v1h-7zM11 297h1v1h-1zM17 297h1v1h-1zM11 298h7v1h-7zM11 299h1v1h-1zM17 299h1v1h-1zM11 300h1v1h-1zM15 300h3v1h-3zM28 290h1v1h-1zM21 291h4v1h-4zM28 291h1v1h-1zM24 292h1v1h-1zM28 292h1v1h-1zM24 293h7v1h-7zM21 294h1v1h-1zM24 294h1v1h-1zM28 294h1v1h-1zM22 295h2v1h-2zM28 295h1v1h-1zM23 296h1v1h-1zM26 296h1v1h-1zM28 296h1v1h-1zM23 297h2v1h-2zM26 297h1v1h-1zM28 297h1v1h-1zM22 298h1v1h-1zM24 298h1v1h-1zM28 298h1v1h-1zM21 299h2v1h-2zM28 299h1v1h-1zM21 300h1v1h-1zM27 300h2v1h-2zM34 290h1v1h-1zM37 290h1v1h-1zM32 291h3v1h-3zM37 291h3v1h-3zM34 292h1v1h-1zM37 292h1v1h-1zM32 293h3v1h-3zM37 293h4v1h-4zM33 295h7v1h-7zM33 296h7v1h-7zM33 297h1v1h-1zM39 297h1v1h-1zM33 298h7v1h-7zM33 299h1v1h-1zM39 299h1v1h-1zM33 300h1v1h-1zM37 300h3v1h-3zM43 291h9v1h-9zM44 292h2v1h-2zM51 292h1v1h-1zM43 293h4v1h-4zM51 293h1v1h-1zM43 294h4v1h-4zM51 294h1v1h-1zM43 295h4v1h-4zM48 295h4v1h-4zM43 296h4v1h-4zM48 296h1v1h-1zM51 296h1v1h-1zM43 297h1v1h-1zM46 297h1v1h-1zM48 297h1v1h-1zM43 298h4v1h-4zM48 298h1v1h-1zM43 299h1v1h-1zM46 299h1v1h-1zM48 299h1v1h-1zM52 299h1v1h-1zM43 300h4v1h-4zM48 300h1v1h-1zM52 300h1v1h-1zM43 301h1v1h-1zM48 301h4v1h-4zM54 291h9v1h-9zM54 292h1v1h-1zM57 292h1v1h-1zM59 292h1v1h-1zM62 292h1v1h-1zM54 293h9v1h-9zM54 294h9v1h-9zM58 295h1v1h-1zM55 296h7v1h-7zM55 297h1v1h-1zM61 297h1v1h-1zM55 298h7v1h-7zM55 299h7v1h-7zM55 300h7v1h-7zM54 301h9v1h-9zM66 298h1v1h-1zM66 299h2v1h-2zM67 300h1v1h-1zM66 301h1v1h-1zM76 292h9v1h-9zM80 293h1v1h-1zM76 294h9v1h-9zM76 295h1v1h-1zM78 295h1v1h-1zM81 295h1v1h-1zM84 295h1v1h-1zM76 296h1v1h-1zM79 296h3v1h-3zM84 296h1v1h-1zM76 297h1v1h-1zM78 297h1v1h-1zM81 297h1v1h-1zM84 297h1v1h-1zM76 298h1v1h-1zM79 298h3v1h-3zM84 298h1v1h-1zM76 299h1v1h-1zM78 299h1v1h-1zM81 299h1v1h-1zM84 299h1v1h-1zM76 300h9v1h-9zM76 301h1v1h-1zM84 301h1v1h-1zM94 290h1v1h-1zM87 291h4v1h-4zM94 291h1v1h-1zM90 292h1v1h-1zM94 292h1v1h-1zM90 293h7v1h-7zM87 294h1v1h-1zM90 294h1v1h-1zM94 294h1v1h-1zM88 295h2v1h-2zM94 295h1v1h-1zM89 296h1v1h-1zM92 296h1v1h-1zM94 296h1v1h-1zM89 297h2v1h-2zM92 297h1v1h-1zM94 297h1v1h-1zM88 298h1v1h-1zM90 298h1v1h-1zM94 298h1v1h-1zM87 299h2v1h-2zM94 299h1v1h-1zM87 300h1v1h-1zM93 300h2v1h-2zM98 292h9v1h-9zM102 293h1v1h-1zM98 294h9v1h-9zM98 295h1v1h-1zM100 295h1v1h-1zM103 295h1v1h-1zM106 295h1v1h-1zM98 296h1v1h-1zM101 296h3v1h-3zM106 296h1v1h-1zM98 297h1v1h-1zM100 297h1v1h-1zM103 297h1v1h-1zM106 297h1v1h-1zM98 298h1v1h-1zM101 298h3v1h-3zM106 298h1v1h-1zM98 299h1v1h-1zM100 299h1v1h-1zM103 299h1v1h-1zM106 299h1v1h-1zM98 300h9v1h-9zM98 301h1v1h-1zM106 301h1v1h-1zM109 291h9v1h-9zM110 292h2v1h-2zM117 292h1v1h-1zM109 293h4v1h-4zM117 293h1v1h-1zM109 294h4v1h-4zM117 294h1v1h-1zM109 295h4v1h-4zM114 295h4v1h-4zM109 296h4v1h-4zM114 296h1v1h-1zM117 296h1v1h-1zM109 297h1v1h-1zM112 297h1v1h-1zM114 297h1v1h-1zM109 298h4v1h-4zM114 298h1v1h-1zM109 299h1v1h-1zM112 299h1v1h-1zM114 299h1v1h-1zM118 299h1v1h-1zM109 300h4v1h-4zM114 300h1v1h-1zM118 300h1v1h-1zM109 301h1v1h-1zM114 301h4v1h-4zM120 291h9v1h-9zM120 292h1v1h-1zM123 292h1v1h-1zM125 292h1v1h-1zM128 292h1v1h-1zM120 293h9v1h-9zM120 294h9v1h-9zM124 295h1v1h-1zM121 296h7v1h-7zM121 297h1v1h-1zM127 297h1v1h-1zM121 298h7v1h-7zM121 299h7v1h-7zM121 300h7v1h-7zM120 301h9v1h-9z"/>
<path class="px" fill="#000" d="M10 308.5h3v1h-3zM14 308.5h6v1h-6zM12 309.5h1v1h-1zM16 309.5h1v1h-1zM10 310.5h2v1h-2zM14 310.5h5v1h-5zM11 311.5h2v1h-2zM14 311.5h1v1h-1zM18 311.5h1v1h-1zM9 312.5h6v1h-6zM16 312.5h1v1h-1zM18 312.5h1v1h-1zM11 313.5h1v1h-1zM13 313.5h2v1h-2zM16 313.5h1v1h-1zM18 313.5h1v1h-1zM11 314.5h2v1h-2zM14 314.5h1v1h-1zM16 314.5h1v1h-1zM18 314.5h1v1h-1zM11 315.5h1v1h-1zM14 315.5h1v1h-1zM16 315.5h1v1h-1zM18 315.5h1v1h-1zM11 316.5h1v1h-1zM16 316.5h2v1h-2zM11 317.5h1v1h-1zM15 317.5h1v1h-1zM17 317.5h2v1h-2zM10 318.5h2v1h-2zM14 318.5h1v1h-1zM18 318.5h1v1h-1zM23 308.5h1v1h-1zM27 308.5h2v1h-2zM21 309.5h5v1h-5zM27 309.5h1v1h-1zM29 309.5h1v1h-1zM23 310.5h1v1h-1zM27 310.5h1v1h-1zM21 311.5h9v1h-9zM21 312.5h5v1h-5zM27 312.5h1v1h-1zM29 312.5h1v1h-1zM22 313.5h1v1h-1zM27 313.5h1v1h-1zM29 313.5h1v1h-1zM21 314.5h1v1h-1zM23 314.5h1v1h-1zM27 314.5h2v1h-2zM21 315.5h5v1h-5zM27 315.5h2v1h-2zM23 316.5h1v1h-1zM27 316.5h1v1h-1zM21 317.5h5v1h-5zM27 317.5h3v1h-3zM26 318.5h1v1h-1zM29 318.5h1v1h-1zM34 308.5h1v1h-1zM38 308.5h1v1h-1zM32 309.5h9v1h-9zM34 310.5h1v1h-1zM38 310.5h1v1h-1zM33 311.5h1v1h-1zM35 311.5h6v1h-6zM33 312.5h1v1h-1zM39 312.5h1v1h-1zM32 313.5h2v1h-2zM35 313.5h3v1h-3zM39 313.5h1v1h-1zM31 314.5h1v1h-1zM33 314.5h1v1h-1zM35 314.5h1v1h-1zM37 314.5h1v1h-1zM39 314.5h1v1h-1zM33 315.5h1v1h-1zM35 315.5h1v1h-1zM37 315.5h1v1h-1zM39 315.5h1v1h-1zM33 316.5h1v1h-1zM35 316.5h3v1h-3zM39 316.5h1v1h-1zM33 317.5h1v1h-1zM35 317.5h1v1h-1zM39 317.5h1v1h-1zM33 318.5h1v1h-1zM38 318.5h2v1h-2zM44 307.5h1v1h-1zM48 307.5h1v1h-1zM43 308.5h4v1h-4zM48 308.5h4v1h-4zM42 309.5h2v1h-2zM45 309.5h1v1h-1zM47 309.5h1v1h-1zM50 309.5h1v1h-1zM44 310.5h7v1h-7zM47 311.5h1v1h-1zM43 312.5h10v1h-10zM49 313.5h1v1h-1zM43 314.5h9v1h-9zM45 315.5h1v1h-1zM49 315.5h1v1h-1zM46 316.5h1v1h-1zM49 316.5h1v1h-1zM48 317.5h2v1h-2zM55 308.5h1v1h-1zM55 309.5h1v1h-1zM57 309.5h5v1h-5zM54 310.5h1v1h-1zM58 310.5h1v1h-1zM61 310.5h1v1h-1zM54 311.5h1v1h-1zM56 311.5h1v1h-1zM58 311.5h1v1h-1zM61 311.5h1v1h-1zM53 312.5h3v1h-3zM58 312.5h1v1h-1zM60 312.5h3v1h-3zM55 313.5h1v1h-1zM58 313.5h2v1h-2zM62 313.5h1v1h-1zM54 314.5h3v1h-3zM58 314.5h2v1h-2zM62 314.5h1v1h-1zM58 315.5h1v1h-1zM60 315.5h2v1h-2zM56 316.5h1v1h-1zM58 316.5h1v1h-1zM60 316.5h2v1h-2zM53 317.5h3v1h-3zM57 317.5h1v1h-1zM59 317.5h3v1h-3zM57 318.5h3v1h-3zM62 318.5h1v1h-1z"/>
<text x="9.5" y="336" font-size="11" fill="#000">A</text>
<text x="9.5" y="354" font-size="11" fill="#000">89</text>
<text x="59.5" y="336" font-size="11" fill="#000">B</text>
<text x="59.5" y="354" font-size="11" fill="#000">266</text>
<text x="109.5" y="336" font-size="11" fill="#000">C</text>
<text x="109.5" y="354" font-size="11" fill="#000">532</text>
<text x="159.5" y="336" font-size="11" fill="#000">D</text>
<text x="159.5" y="354" font-size="11" fill="#000">-</text>
<text x="9.5" y="376" font-size="11" fill="#000" textLength="147" lengthAdjust="spacing" font-weight="bold">Static axial stiffness [N/µm]</text>
<text x="9.5" y="393.7" font-size="11" fill="#000" textLength="78.5" lengthAdjust="spacing">(guideline value)</text>
<path class="px" fill="#000" d="M10 403h3v1h-3zM14 403h6v1h-6zM12 404h1v1h-1zM16 404h1v1h-1zM10 405h2v1h-2zM14 405h5v1h-5zM11 406h2v1h-2zM14 406h1v1h-1zM18 406h1v1h-1zM9 407h6v1h-6zM16 407h1v1h-1zM18 407h1v1h-1zM11 408h1v1h-1zM13 408h2v1h-2zM16 408h1v1h-1zM18 408h1v1h-1zM11 409h2v1h-2zM14 409h1v1h-1zM16 409h1v1h-1zM18 409h1v1h-1zM11 410h1v1h-1zM14 410h1v1h-1zM16 410h1v1h-1zM18 410h1v1h-1zM11 411h1v1h-1zM16 411h2v1h-2zM11 412h1v1h-1zM15 412h1v1h-1zM17 412h2v1h-2zM10 413h2v1h-2zM14 413h1v1h-1zM18 413h1v1h-1zM23 403h1v1h-1zM27 403h2v1h-2zM21 404h5v1h-5zM27 404h1v1h-1zM29 404h1v1h-1zM23 405h1v1h-1zM27 405h1v1h-1zM21 406h9v1h-9zM21 407h5v1h-5zM27 407h1v1h-1zM29 407h1v1h-1zM22 408h1v1h-1zM27 408h1v1h-1zM29 408h1v1h-1zM21 409h1v1h-1zM23 409h1v1h-1zM27 409h2v1h-2zM21 410h5v1h-5zM27 410h2v1h-2zM23 411h1v1h-1zM27 411h1v1h-1zM21 412h5v1h-5zM27 412h3v1h-3zM26 413h1v1h-1zM29 413h1v1h-1zM34 403h1v1h-1zM38 403h1v1h-1zM32 404h9v1h-9zM34 405h1v1h-1zM38 405h1v1h-1zM33 406h1v1h-1zM35 406h6v1h-6zM33 407h1v1h-1zM39 407h1v1h-1zM32 408h2v1h-2zM35 408h3v1h-3zM39 408h1v1h-1zM31 409h1v1h-1zM33 409h1v1h-1zM35 409h1v1h-1zM37 409h1v1h-1zM39 409h1v1h-1zM33 410h1v1h-1zM35 410h1v1h-1zM37 410h1v1h-1zM39 410h1v1h-1zM33 411h1v1h-1zM35 411h3v1h-3zM39 411h1v1h-1zM33 412h1v1h-1zM35 412h1v1h-1zM39 412h1v1h-1zM33 413h1v1h-1zM38 413h2v1h-2zM44 402h1v1h-1zM48 402h1v1h-1zM43 403h4v1h-4zM48 403h4v1h-4zM42 404h2v1h-2zM45 404h1v1h-1zM47 404h1v1h-1zM50 404h1v1h-1zM44 405h7v1h-7zM47 406h1v1h-1zM43 407h10v1h-10zM49 408h1v1h-1zM43 409h9v1h-9zM45 410h1v1h-1zM49 410h1v1h-1zM46 411h1v1h-1zM49 411h1v1h-1zM48 412h2v1h-2zM55 403h1v1h-1zM55 404h1v1h-1zM57 404h5v1h-5zM54 405h1v1h-1zM58 405h1v1h-1zM61 405h1v1h-1zM54 406h1v1h-1zM56 406h1v1h-1zM58 406h1v1h-1zM61 406h1v1h-1zM53 407h3v1h-3zM58 407h1v1h-1zM60 407h3v1h-3zM55 408h1v1h-1zM58 408h2v1h-2zM62 408h1v1h-1zM54 409h3v1h-3zM58 409h2v1h-2zM62 409h1v1h-1zM58 410h1v1h-1zM60 410h2v1h-2zM56 411h1v1h-1zM58 411h1v1h-1zM60 411h2v1h-2zM53 412h3v1h-3zM57 412h1v1h-1zM59 412h3v1h-3zM57 413h3v1h-3zM62 413h1v1h-1z"/>
<text x="9.5" y="429.7" font-size="11" fill="#000">A</text>
<text x="9.5" y="448" font-size="11" fill="#000">47</text>
<text x="59.5" y="429.7" font-size="11" fill="#000">B</text>
<text x="59.5" y="448" font-size="11" fill="#000">76</text>
<text x="109.5" y="429.7" font-size="11" fill="#000">C</text>
<text x="109.5" y="448" font-size="11" fill="#000">105</text>
<text x="159.5" y="429.7" font-size="11" fill="#000">D</text>
<text x="159.5" y="448" font-size="11" fill="#000">-</text>
<text x="9.5" y="466.6" font-size="11" fill="#000" textLength="176.5" lengthAdjust="spacing" font-weight="bold">Reference grease quantity [cm³]</text>
<text x="9.3" y="481" font-size="9.5" fill="#000">G</text>
<text x="16.4" y="484" font-size="9" fill="#000" textLength="13.2" lengthAdjust="spacingAndGlyphs">ref</text>
<text x="59.6" y="481" font-size="11" fill="#000">2,6</text>
<path class="px" fill="#000" d="M236 273.5h2v1h-2zM231 274.5h2v1h-2zM236 274.5h2v1h-2zM236 275.5h2v1h-2zM236 276.5h2v1h-2zM229 277.5h12v1h-12zM231 278.5h2v1h-2zM236 278.5h2v1h-2zM231 279.5h2v1h-2zM236 279.5h2v1h-2zM231 280.5h2v1h-2zM236 280.5h2v1h-2zM231 281.5h4v1h-4zM236 281.5h2v1h-2zM231 282.5h3v1h-3zM236 282.5h2v1h-2zM236 283.5h2v1h-2zM243 272.5h2v1h-2zM247 272.5h2v1h-2zM242 273.5h10v1h-10zM243 274.5h8v1h-8zM243 275.5h2v1h-2zM249 275.5h2v1h-2zM243 276.5h8v1h-8zM243 277.5h8v1h-8zM243 278.5h8v1h-8zM244 279.5h2v1h-2zM248 279.5h2v1h-2zM242 280.5h10v1h-10zM244 281.5h2v1h-2zM248 281.5h2v1h-2zM242 282.5h3v1h-3zM248 282.5h2v1h-2zM260 273.5h3v1h-3zM254 274.5h7v1h-7zM256 275.5h2v1h-2zM260 275.5h2v1h-2zM255 276.5h6v1h-6zM257 277.5h5v1h-5zM255 278.5h3v1h-3zM261 278.5h2v1h-2zM254 279.5h10v1h-10zM256 280.5h6v1h-6zM255 281.5h2v1h-2zM258 281.5h2v1h-2zM261 281.5h2v1h-2zM254 282.5h2v1h-2zM258 282.5h2v1h-2zM262 282.5h2v1h-2zM257 283.5h3v1h-3zM266 273.5h4v1h-4zM272 273.5h2v1h-2zM266 274.5h7v1h-7zM266 275.5h10v1h-10zM267 276.5h3v1h-3zM271 276.5h2v1h-2zM274 276.5h2v1h-2zM266 277.5h9v1h-9zM270 278.5h5v1h-5zM266 279.5h5v1h-5zM272 279.5h3v1h-3zM266 280.5h2v1h-2zM269 280.5h2v1h-2zM273 280.5h2v1h-2zM267 281.5h3v1h-3zM272 281.5h3v1h-3zM267 282.5h6v1h-6zM274 282.5h2v1h-2zM266 283.5h2v1h-2zM270 283.5h2v1h-2z"/>
<text x="229.7" y="299.5" font-size="11" fill="#000" textLength="146" lengthAdjust="spacing" font-weight="bold">for equivalent bearing load</text>
<text x="229.7" y="318" font-size="11" fill="#000">f</text>
<text x="233.3" y="320.9" font-size="9" fill="#000" textLength="5.8" lengthAdjust="spacingAndGlyphs">0</text>
<text x="264.8" y="318" font-size="11" fill="#000">8,5</text>
<text x="529.2" y="299.5" font-size="11" fill="#000" textLength="200" lengthAdjust="spacing" font-weight="bold">for preload in mounted bearing sets</text>
<text x="529.2" y="318" font-size="11" fill="#000">f</text>
<text x="554.5" y="318" font-size="11" fill="#000">1,19</text>
<text x="529.2" y="336" font-size="11" fill="#000">f</text>
<text x="533.3" y="339.4" font-size="9" fill="#000" textLength="5.8" lengthAdjust="spacingAndGlyphs">1</text>
<text x="554.5" y="336" font-size="11" fill="#000">1</text>
<text x="529.2" y="354" font-size="11" fill="#000">f</text>
<text x="533.3" y="357.4" font-size="9" fill="#000" textLength="12.8" lengthAdjust="spacingAndGlyphs">2A</text>
<text x="554.5" y="354" font-size="11" fill="#000">1</text>
<text x="529.2" y="372" font-size="11" fill="#000">f</text>
<text x="533.3" y="375.4" font-size="9" fill="#000" textLength="12.8" lengthAdjust="spacingAndGlyphs">2B</text>
<text x="554.5" y="372" font-size="11" fill="#000">1,04</text>
<text x="529.2" y="390" font-size="11" fill="#000">f</text>
<text x="533.3" y="393.4" font-size="9" fill="#000" textLength="12.8" lengthAdjust="spacingAndGlyphs">2C</text>
<text x="554.5" y="390" font-size="11" fill="#000">1,08</text>
<text x="529.2" y="408" font-size="11" fill="#000">f</text>
<text x="533.3" y="411.4" font-size="9" fill="#000" textLength="12.8" lengthAdjust="spacingAndGlyphs">2D</text>
<text x="554.5" y="408" font-size="11" fill="#000">-</text>
<text x="529.2" y="426" font-size="11" fill="#000">f</text>
<text x="533.3" y="429.4" font-size="9" fill="#000" textLength="12.8" lengthAdjust="spacingAndGlyphs">HC</text>
<text x="554.5" y="426" font-size="11" fill="#000">1</text>
</svg>
</body></html>
